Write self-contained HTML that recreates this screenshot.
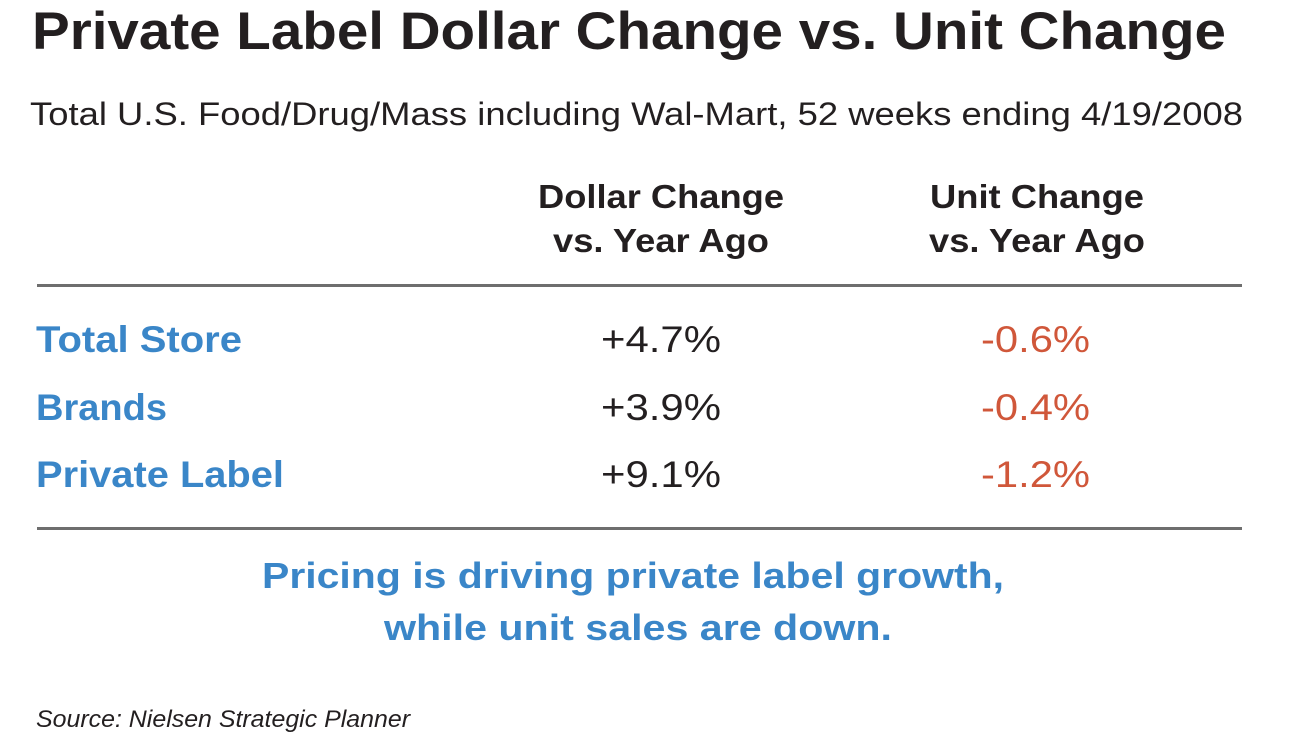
<!DOCTYPE html>
<html><head><meta charset="utf-8"><style>
html,body{margin:0;padding:0;background:#fff;width:1300px;height:732px;overflow:hidden}
svg{display:block}
text{font-family:"Liberation Sans",sans-serif}
</style></head><body>
<svg width="1300" height="732" viewBox="0 0 1300 732" xmlns="http://www.w3.org/2000/svg">
<text x="32" y="49" font-size="53" font-weight="bold" fill="#231f20" textLength="1194" lengthAdjust="spacingAndGlyphs">Private Label Dollar Change vs. Unit Change</text>
<text x="30" y="125" font-size="32" fill="#231f20" textLength="1213" lengthAdjust="spacingAndGlyphs">Total U.S. Food/Drug/Mass including Wal-Mart, 52 weeks ending 4/19/2008</text>
<g font-size="33" font-weight="bold" fill="#231f20" text-anchor="middle">
<text x="661" y="208" textLength="246" lengthAdjust="spacingAndGlyphs">Dollar Change</text>
<text x="661" y="252" textLength="216" lengthAdjust="spacingAndGlyphs">vs. Year Ago</text>
<text x="1037" y="208" textLength="214" lengthAdjust="spacingAndGlyphs">Unit Change</text>
<text x="1037" y="252" textLength="216" lengthAdjust="spacingAndGlyphs">vs. Year Ago</text>
</g>
<rect x="37" y="284" width="1205" height="3" fill="#6e6e6e"/>
<rect x="37" y="527" width="1205" height="3" fill="#6e6e6e"/>
<g font-size="37" font-weight="bold" fill="#3a86c8">
<text x="36" y="352" textLength="206" lengthAdjust="spacingAndGlyphs">Total Store</text>
<text x="36" y="420" textLength="131" lengthAdjust="spacingAndGlyphs">Brands</text>
<text x="36" y="487" textLength="248" lengthAdjust="spacingAndGlyphs">Private Label</text>
</g>
<g font-size="37" fill="#231f20">
<text x="601" y="352" textLength="120" lengthAdjust="spacingAndGlyphs">+4.7%</text>
<text x="601" y="420" textLength="120" lengthAdjust="spacingAndGlyphs">+3.9%</text>
<text x="601" y="487" textLength="120" lengthAdjust="spacingAndGlyphs">+9.1%</text>
</g>
<g font-size="37" fill="#d0573a">
<text x="981" y="352" textLength="109" lengthAdjust="spacingAndGlyphs">-0.6%</text>
<text x="981" y="420" textLength="109" lengthAdjust="spacingAndGlyphs">-0.4%</text>
<text x="981" y="487" textLength="109" lengthAdjust="spacingAndGlyphs">-1.2%</text>
</g>
<g font-size="36" font-weight="bold" fill="#3a86c8" text-anchor="middle">
<text x="633" y="588" textLength="742" lengthAdjust="spacingAndGlyphs">Pricing is driving private label growth,</text>
<text x="638" y="640" textLength="508" lengthAdjust="spacingAndGlyphs">while unit sales are down.</text>
</g>
<text x="36" y="727" font-size="24" font-style="italic" fill="#231f20" textLength="374" lengthAdjust="spacingAndGlyphs">Source: Nielsen Strategic Planner</text>
</svg>
</body></html>
